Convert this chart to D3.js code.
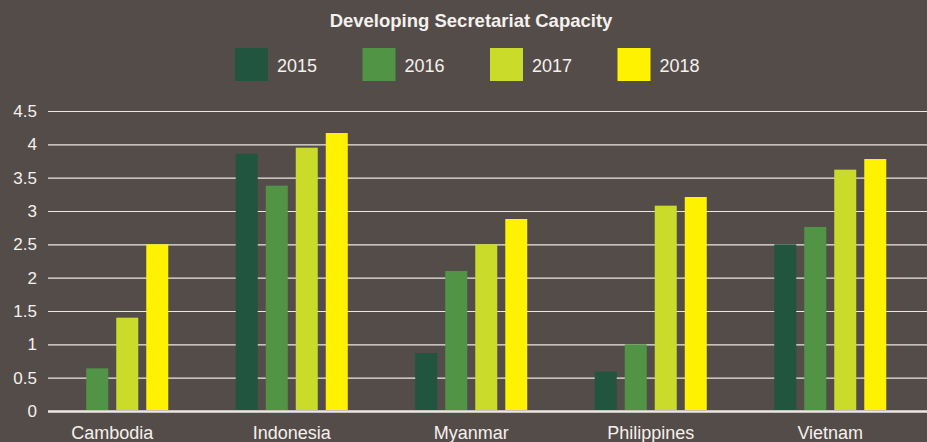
<!DOCTYPE html>
<html>
<head>
<meta charset="utf-8">
<script src="https://cdn.jsdelivr.net/npm/d3@7"></script>
<style>
  html, body { margin: 0; padding: 0; background: #544c49; }
  svg { display: block; }
  text { font-family: "Liberation Sans", Arial, Helvetica, sans-serif; fill: #f4f1ee; }
</style>
</head>
<body>
<svg width="927" height="442"></svg>
<script>
const svg = d3.select('svg');
const width = +svg.attr('width');
const height = +svg.attr('height');

// data
const countries = ['Cambodia', 'Indonesia', 'Myanmar', 'Philippines', 'Vietnam'];
const years = ['2015', '2016', '2017', '2018'];
const yearColors = ['#22553f', '#529445', '#cadb2a', '#fff200'];
const values2015 = [0, 3.86, 0.87, 0.59, 2.5];
const values2016 = [0.64, 3.38, 2.1, 1.0, 2.76];
const values2017 = [1.4, 3.95, 2.5, 3.08, 3.62];
const values2018 = [2.5, 4.17, 2.88, 3.21, 3.78];
const yTicks = [0, 0.5, 1, 1.5, 2, 2.5, 3, 3.5, 4, 4.5];

const series = [values2015, values2016, values2017, values2018];
const rows = countries.map((c, i) => ({
  country: c,
  values: years.map((y, j) => ({ year: y, value: series[j][i] }))
}));

const gridLeft = 48;

const x0 = d3.scaleBand()
  .domain(countries)
  .range([22.5, 920])
  .paddingInner(0.376)
  .paddingOuter(0.188);

const x1 = d3.scaleBand()
  .domain(years)
  .range([0, x0.bandwidth()])
  .paddingInner(0.267);

const yScale = d3.scaleLinear()
  .domain([0, 4.5])
  .range([411, 111]);

const color = d3.scaleOrdinal().domain(years).range(yearColors);

// title
svg.append('text')
  .attr('x', 471)
  .attr('y', 26.5)
  .attr('text-anchor', 'middle')
  .attr('font-weight', 'bold')
  .attr('font-size', 18.5)
  .text('Developing Secretariat Capacity');

// legend
const legend = svg.append('g').attr('class', 'legend');
const legendItem = legend.selectAll('g').data(years)
  .enter().append('g')
    .attr('transform', (d, i) => `translate(${235 + i * 127.5}, 48)`);
legendItem.append('rect')
  .attr('width', 33)
  .attr('height', 33)
  .attr('fill', d => color(d));
legendItem.append('text')
  .attr('x', 42)
  .attr('y', 24)
  .attr('font-size', 18)
  .text(d => d);

// y axis: gridlines + labels
const yAxis = d3.axisLeft(yScale)
  .tickValues(yTicks)
  .tickFormat(d => d)
  .tickSize(-(width - gridLeft))
  .tickPadding(11);

const yAxisG = svg.append('g')
  .attr('class', 'y-axis')
  .attr('transform', `translate(${gridLeft}, 0)`)
  .call(yAxis);
yAxisG.select('.domain').remove();
yAxisG.selectAll('.tick line')
  .attr('stroke', '#ece8e4')
  .attr('stroke-width', d => d === 0 ? 2.5 : 1.2);
yAxisG.selectAll('.tick text')
  .attr('font-size', 17)
  .attr('fill', '#f4f1ee')
  .attr('font-family', '"Liberation Sans", Arial, sans-serif');

// bars
const groups = svg.append('g').selectAll('g').data(rows)
  .enter().append('g')
    .attr('transform', d => `translate(${x0(d.country)}, 0)`);
groups.selectAll('rect').data(d => d.values.filter(v => v.value > 0))
  .enter().append('rect')
    .attr('x', d => x1(d.year))
    .attr('y', d => yScale(d.value))
    .attr('width', x1.bandwidth())
    .attr('height', d => yScale(0) - 1 - yScale(d.value))
    .attr('fill', d => color(d.year));

// x axis labels
const xAxis = d3.axisBottom(x0).tickSize(0).tickPadding(14);
const xAxisG = svg.append('g')
  .attr('class', 'x-axis')
  .attr('transform', `translate(0, ${yScale(0) + 1})`)
  .call(xAxis);
xAxisG.select('.domain').remove();
xAxisG.selectAll('.tick text')
  .attr('font-size', 18)
  .attr('fill', '#f4f1ee')
  .attr('font-family', '"Liberation Sans", Arial, sans-serif');
</script>
</body>
</html>
